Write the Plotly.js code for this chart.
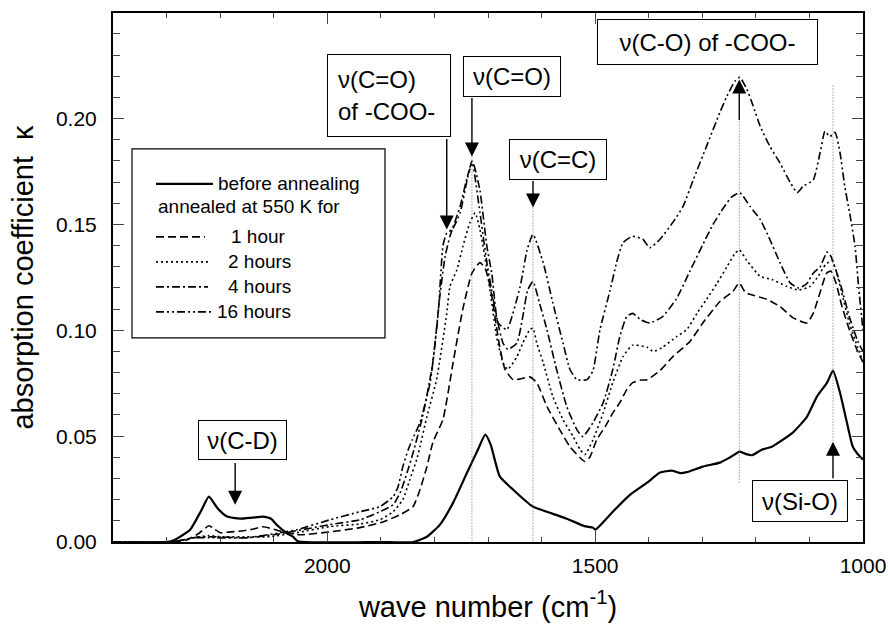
<!DOCTYPE html>
<html>
<head>
<meta charset="utf-8">
<script src="https://cdn.plot.ly/plotly-3.0.1.min.js"></script>
<style>html,body{margin:0;padding:0;background:#fff}#chart{width:888px;height:629px}</style>
</head>
<body>
<div id="chart"></div>
<script>
// ---------- DATA ----------
const seriesNames = ['before annealing', '1 hour', '2 hours', '4 hours', '16 hours'];
const legendHeader = 'annealed at 550 K for';

const wnBefore = [2400,2300,2285,2256,2235,2221,2205,2187,2163,2140,2120,2105,2094,2075,2064,2055,1900,1840,1814,1790,1765,1739,1720,1705,1695,1678,1653,1616,1590,1553,1520,1504,1500,1490,1467,1435,1403,1379,1357,1340,1329,1299,1267,1248,1230,1218,1207,1189,1170,1155,1131,1105,1086,1067,1056,1043,1030,1019,1008,1000];
const kBefore  = [0,0,0.001,0.0058,0.015,0.0214,0.016,0.012,0.011,0.0115,0.012,0.011,0.008,0.004,0.0025,0.0003,0,0,0.0025,0.0081,0.0186,0.0328,0.043,0.0507,0.046,0.031,0.0247,0.0167,0.0143,0.011,0.0075,0.0068,0.0058,0.008,0.0143,0.0223,0.028,0.0328,0.0337,0.0325,0.033,0.0356,0.0375,0.040,0.0427,0.0415,0.041,0.0436,0.045,0.0474,0.0517,0.059,0.0687,0.0753,0.081,0.0706,0.0564,0.045,0.041,0.039];

const wn1h = [2400,2290,2262,2240,2221,2210,2200,2180,2160,2140,2120,2100,2083,2051,1995,1939,1896,1864,1840,1827,1814,1803,1784,1765,1747,1730,1715,1705,1696,1687,1678,1668,1653,1640,1622,1609,1590,1566,1547,1528,1519,1510,1497,1480,1467,1454,1441,1430,1415,1403,1379,1355,1323,1299,1267,1243,1231,1220,1211,1179,1155,1131,1105,1093,1080,1068,1060,1050,1040,1025,1010,1000];
const k1h  = [0,0,0.001,0.004,0.0077,0.006,0.0044,0.0048,0.0052,0.006,0.0072,0.006,0.0048,0.0034,0.0048,0.0068,0.0095,0.0129,0.0167,0.0247,0.0356,0.047,0.058,0.085,0.11,0.127,0.132,0.129,0.1207,0.1065,0.092,0.0814,0.0767,0.077,0.078,0.0753,0.064,0.053,0.045,0.0398,0.038,0.040,0.0483,0.055,0.061,0.0658,0.072,0.0753,0.0765,0.0767,0.081,0.0876,0.0947,0.1035,0.1136,0.1183,0.1224,0.118,0.117,0.1146,0.1112,0.106,0.1035,0.108,0.118,0.127,0.128,0.122,0.112,0.1,0.09,0.085];

const wn2h = [2400,2290,2250,2221,2200,2150,2107,2057,1995,1939,1902,1877,1859,1846,1833,1827,1814,1796,1777,1771,1758,1747,1734,1724,1715,1702,1693,1684,1672,1663,1646,1635,1622,1616,1609,1597,1579,1560,1541,1528,1519,1504,1485,1467,1448,1430,1403,1392,1374,1348,1329,1310,1292,1273,1254,1240,1231,1217,1192,1170,1142,1120,1099,1085,1070,1058,1050,1040,1025,1010,1000];
const k2h  = [0,0,0.002,0.003,0.0025,0.0025,0.0025,0.0044,0.0073,0.0085,0.0105,0.0143,0.02,0.0294,0.039,0.045,0.0593,0.0767,0.108,0.1207,0.1287,0.1395,0.1507,0.1555,0.1476,0.1287,0.113,0.097,0.0847,0.0815,0.0876,0.094,0.1003,0.101,0.094,0.0847,0.0687,0.0578,0.0498,0.0436,0.0413,0.0483,0.061,0.0753,0.0876,0.093,0.092,0.090,0.092,0.097,0.1003,0.108,0.1146,0.122,0.13,0.136,0.138,0.133,0.1255,0.124,0.1207,0.119,0.1207,0.125,0.131,0.133,0.128,0.118,0.103,0.092,0.085];

const wn4h = [2400,2290,2250,2221,2150,2101,1995,1939,1902,1877,1864,1851,1840,1822,1803,1790,1780,1771,1752,1737,1728,1715,1702,1693,1684,1672,1663,1646,1635,1626,1616,1604,1590,1572,1553,1534,1523,1504,1485,1467,1454,1441,1430,1415,1398,1374,1348,1323,1300,1280,1260,1245,1230,1211,1192,1174,1155,1136,1120,1105,1093,1080,1067,1060,1050,1040,1025,1010,1000];
const k4h  = [0,0,0.002,0.0025,0.002,0.0034,0.0082,0.0105,0.0143,0.0176,0.0233,0.0328,0.042,0.0593,0.0847,0.116,0.135,0.1444,0.1586,0.174,0.179,0.166,0.1395,0.127,0.1065,0.094,0.091,0.094,0.1065,0.119,0.123,0.113,0.1003,0.0815,0.064,0.053,0.0498,0.0564,0.0658,0.0815,0.097,0.1065,0.108,0.105,0.1035,0.1065,0.115,0.128,0.14,0.15,0.158,0.163,0.165,0.1586,0.1524,0.143,0.132,0.1224,0.12,0.122,0.127,0.13,0.137,0.135,0.128,0.12,0.106,0.095,0.09];

const wn16h = [2400,2290,2250,2221,2150,2088,2057,1995,1939,1902,1877,1868,1859,1849,1842,1827,1808,1793,1784,1777,1767,1752,1739,1730,1715,1702,1691,1681,1665,1640,1627,1616,1597,1579,1560,1547,1534,1515,1504,1491,1472,1460,1448,1430,1411,1398,1379,1355,1336,1317,1292,1267,1254,1239,1230,1217,1205,1192,1174,1155,1136,1123,1112,1093,1080,1071,1062,1052,1043,1034,1025,1015,1008,1000];
const k16h  = [0,0,0.002,0.002,0.002,0.0044,0.0058,0.0105,0.0143,0.0167,0.0214,0.026,0.0356,0.0436,0.048,0.0564,0.0753,0.108,0.14,0.146,0.1476,0.1555,0.171,0.18,0.1555,0.132,0.116,0.1035,0.1003,0.1207,0.138,0.1453,0.132,0.113,0.094,0.0815,0.0767,0.0767,0.081,0.1003,0.119,0.132,0.1414,0.1444,0.143,0.139,0.143,0.151,0.1585,0.171,0.187,0.203,0.2106,0.2177,0.2195,0.214,0.206,0.1964,0.187,0.179,0.170,0.165,0.168,0.171,0.184,0.194,0.1915,0.1935,0.184,0.168,0.1555,0.14,0.12,0.10];

const bandLabels = ['\u03bd(C-D)', '\u03bd(C=O)<br>of -COO-', '\u03bd(C=O)', '\u03bd(C=C)', '\u03bd(C-O) of -COO-', '\u03bd(Si-O)'];

// ---------- STYLE ----------
const FONT = 'Liberation Sans, Arial, Helvetica, sans-serif';
const dashes = ['solid', '8px,4px', '2px,3px', '8px,3px,2px,3px', '8px,3px,2px,3px,2px,3px'];
const widths = [2.2, 1.6, 1.6, 1.6, 1.6];
const xs = [wnBefore, wn1h, wn2h, wn4h, wn16h];
const ys = [kBefore, k1h, k2h, k4h, k16h];

const traces = xs.map((x, i) => ({
  type: 'scatter', mode: 'lines', name: seriesNames[i],
  x: x, y: ys[i],
  line: {color: '#000', width: widths[i], dash: dashes[i], shape: 'spline', smoothing: 0.5},
  hoverinfo: 'skip'
}));

// ---------- ANNOTATIONS ----------
const boxes = [
  {t: bandLabels[0], x: 2158, y: 0.0483, w: 89, h: 40},
  {t: bandLabels[1], x: 1885, y: 0.2107, w: 124, h: 83, left: true},
  {t: bandLabels[2], x: 1655, y: 0.2201, w: 98, h: 41},
  {t: bandLabels[3], x: 1569, y: 0.1809, w: 98, h: 41},
  {t: bandLabels[4], x: 1290, y: 0.236, w: 221, h: 46},
  {t: bandLabels[5], x: 1118, y: 0.0195, w: 96, h: 42}
];
const annotations = boxes.map(b => ({
  xref: 'x', yref: 'y', x: b.x, y: b.y, xanchor: 'center', yanchor: 'middle',
  text: b.t, showarrow: false, align: b.left ? 'left' : 'center',
  font: {family: FONT, size: 24, color: '#000'},
  bordercolor: '#000', borderwidth: 1, bgcolor: '#fff',
  borderpad: b.left ? 10 : 3,
  width: b.left ? b.w - 22 : b.w - 8,
  height: b.left ? b.h - 22 : b.h - 8
}));

const arrows = [
  {x: 2172, y: 0.0176, ax: 2172, ay: 0.038},
  {x: 1777, y: 0.1476, ax: 1777, ay: 0.1911},
  {x: 1730, y: 0.1821, ax: 1730, ay: 0.2104},
  {x: 1616, y: 0.158, ax: 1616, ay: 0.1712},
  {x: 1231, y: 0.2185, ax: 1231, ay: 0.1986},
  {x: 1056, y: 0.0474, ax: 1056, ay: 0.0294}
];
arrows.forEach(a => annotations.push({
  xref: 'x', yref: 'y', axref: 'x', ayref: 'y', x: a.x, y: a.y, ax: a.ax, ay: a.ay,
  text: '', showarrow: true, arrowhead: 2, arrowsize: 2, arrowwidth: 1.4, arrowcolor: '#000',
  standoff: 0, startstandoff: 0
}));

const shapes = [];
[[1730, 0.1821, 0], [1616, 0.158, 0], [1231, 0.1986, 0.028], [1056, 0.2156, 0.0474]].forEach(g => shapes.push({
  type: 'line', xref: 'x', yref: 'y', x0: g[0], x1: g[0], y0: g[1], y1: g[2],
  line: {color: '#666', width: 1, dash: '1px,2px'}
}));

// ---------- LEGEND (drawn in paper coords) ----------
const px = v => (v - 113) / 750;
const py = v => (542.3 - v) / 529.3;
shapes.push({type: 'rect', xref: 'paper', yref: 'paper', x0: px(132), x1: px(385), y0: py(338), y1: py(149),
  line: {color: '#000', width: 1.2}, fillcolor: 'rgba(0,0,0,0)'});
const legRows = [
  {y: 184, x1: 213, tx: 216, name: seriesNames[0], s: 0},
  {y: 207, tx: 156, name: legendHeader, s: -1},
  {y: 237, x1: 205, tx: 229, name: seriesNames[1], s: 1},
  {y: 262, x1: 208, tx: 226, name: seriesNames[2], s: 2},
  {y: 287, x1: 208, tx: 226, name: seriesNames[3], s: 3},
  {y: 312, x1: 213, tx: 215, name: seriesNames[4], s: 4}
];
legRows.forEach(r => {
  if (r.s >= 0) shapes.push({type: 'line', xref: 'paper', yref: 'paper', x0: px(156), x1: px(r.x1), y0: py(r.y), y1: py(r.y),
    line: {color: '#000', width: widths[r.s], dash: dashes[r.s]}});
  annotations.push({xref: 'paper', yref: 'paper', x: px(r.tx), y: py(r.y), xanchor: 'left', yanchor: 'middle',
    text: r.name, showarrow: false, font: {family: FONT, size: 19, color: '#000'}});
});

const layout = {
  width: 888, height: 629,
  margin: {l: 113, r: 25, t: 13, b: 87},
  paper_bgcolor: '#fff', plot_bgcolor: '#fff',
  showlegend: false,
  font: {family: FONT, color: '#000', size: 21},
  xaxis: {
    autorange: 'reversed', dtick: 500, tick0: 1000,
    ticks: 'inside', ticklen: 11,
    minor: {ticks: 'inside', dtick: 100, ticklen: 5},
    showline: true, linewidth: 2, linecolor: '#000', mirror: 'ticks',
    showgrid: false, zeroline: false,
    tickfont: {family: FONT, size: 21, color: '#000'}, ticklabelstandoff: 4,
    title: {text: 'wave number (cm<sup>-1</sup>)', font: {family: FONT, size: 29, color: '#000'}, standoff: 20}
  },
  yaxis: {
    range: [0, 0.2499], autorange: false, dtick: 0.05, tick0: 0, tickformat: '.2f',
    ticks: 'inside', ticklen: 11,
    minor: {ticks: 'inside', dtick: 0.01, ticklen: 7},
    showline: true, linewidth: 2, linecolor: '#000', mirror: 'ticks',
    showgrid: false, zeroline: false,
    tickfont: {family: FONT, size: 21, color: '#000'}, ticklabelstandoff: 10,
    title: {text: 'absorption coefficient\u00a0\u00a0\u03ba', font: {family: FONT, size: 29, color: '#000'}, standoff: 14}
  },
  annotations: annotations,
  shapes: shapes
};

Plotly.newPlot('chart', traces, layout, {displayModeBar: false, staticPlot: true});
</script>
</body>
</html>
